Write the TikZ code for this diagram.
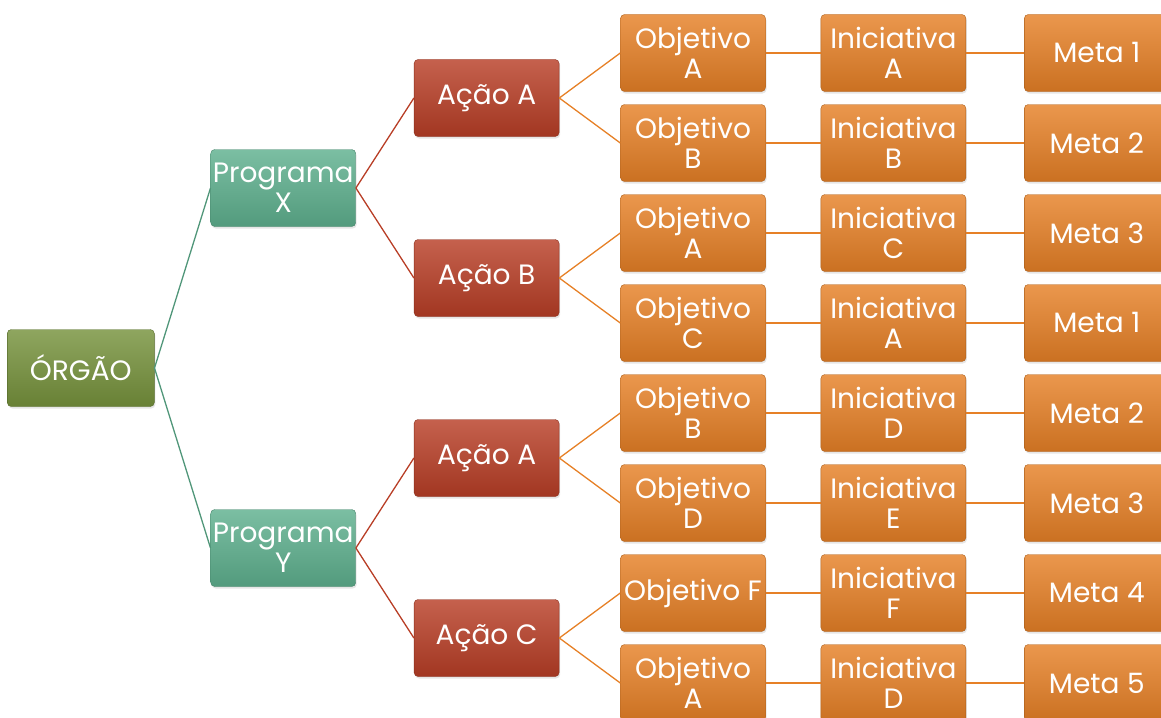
\documentclass[tikz,border=0pt]{standalone}
\usepackage{fontspec}
\setmainfont{Poppins}
\usepackage{tikz}
\usetikzlibrary{positioning, calc, shadows}
\definecolor{orgaogreen}{RGB}{118,146,60}
\definecolor{progteal}{RGB}{94,176,142}
\definecolor{acaored}{RGB}{184,62,38}
\definecolor{metaorange}{RGB}{230,128,38}

\begin{document}
\begin{tikzpicture}[x=1pt, y=-1pt, font=\fontsize{28}{30}\selectfont,
    box/.style={rectangle, rounded corners=4pt, minimum width=145pt, minimum height=77pt, inner sep=0pt, align=center, text=white,
      draw=#1!75!black, top color=#1!82!white, bottom color=#1!88!black,
      drop shadow={opacity=0.2, shadow xshift=1pt, shadow yshift=-2pt}},
    link/.style={line width=1.3pt, draw=#1}]
        \useasboundingbox (0,0) rectangle (1161,717);
        % objetivo column
        \node[box=metaorange] (o1) at (693,53) {Objetivo\\A};
        \node[box=metaorange, below=12.6pt of o1] (o2) {Objetivo\\B};
        \node[box=metaorange, below=12.6pt of o2] (o3) {Objetivo\\A};
        \node[box=metaorange, below=12.6pt of o3] (o4) {Objetivo\\C};
        \node[box=metaorange, below=12.6pt of o4] (o5) {Objetivo\\B};
        \node[box=metaorange, below=12.6pt of o5] (o6) {Objetivo\\D};
        \node[box=metaorange, below=12.6pt of o6] (o7) {Objetivo F};
        \node[box=metaorange, below=12.6pt of o7] (o8) {Objetivo\\A};
        % iniciativa column
        \node[box=metaorange, right=55pt of o1] (i1) {Iniciativa\\A};
        \node[box=metaorange, right=55pt of o2] (i2) {Iniciativa\\B};
        \node[box=metaorange, right=55pt of o3] (i3) {Iniciativa\\C};
        \node[box=metaorange, right=55pt of o4] (i4) {Iniciativa\\A};
        \node[box=metaorange, right=55pt of o5] (i5) {Iniciativa\\D};
        \node[box=metaorange, right=55pt of o6] (i6) {Iniciativa\\E};
        \node[box=metaorange, right=55pt of o7] (i7) {Iniciativa\\F};
        \node[box=metaorange, right=55pt of o8] (i8) {Iniciativa\\D};
        % meta column
        \node[box=metaorange, right=58pt of i1] (m1) {Meta 1};
        \node[box=metaorange, right=58pt of i2] (m2) {Meta 2};
        \node[box=metaorange, right=58pt of i3] (m3) {Meta 3};
        \node[box=metaorange, right=58pt of i4] (m4) {Meta 1};
        \node[box=metaorange, right=58pt of i5] (m5) {Meta 2};
        \node[box=metaorange, right=58pt of i6] (m6) {Meta 3};
        \node[box=metaorange, right=58pt of i7] (m7) {Meta 4};
        \node[box=metaorange, right=58pt of i8] (m8) {Meta 5};
        % acoes
        \coordinate (c1) at ($(o1.west)!0.5!(o2.west)$);
        \coordinate (c2) at ($(o3.west)!0.5!(o4.west)$);
        \coordinate (c3) at ($(o5.west)!0.5!(o6.west)$);
        \coordinate (c4) at ($(o7.west)!0.5!(o8.west)$);
        \node[box=acaored, left=61pt of c1] (a1) {Ação A};
        \node[box=acaored, left=61pt of c2] (a2) {Ação B};
        \node[box=acaored, left=61pt of c3] (a3) {Ação A};
        \node[box=acaored, left=61pt of c4] (a4) {Ação C};
        % programas
        \coordinate (c5) at ($(a1.west)!0.5!(a2.west)$);
        \coordinate (c6) at ($(a3.west)!0.5!(a4.west)$);
        \node[box=progteal, left=58pt of c5] (px) {Programa\\X};
        \node[box=progteal, left=58pt of c6] (py) {Programa\\Y};
        % orgao
        \coordinate (c7) at ($(px.west)!0.5!(py.west)$);
        \node[box=orgaogreen, minimum width=147pt, left=56pt of c7] (org) {ÓRGÃO};
        % ligacoes
        \draw[link=progteal!85!black] (org.east) -- (px.west);
        \draw[link=progteal!85!black] (org.east) -- (py.west);
        \draw[link=acaored] (px.east) -- (a1.west);
        \draw[link=acaored] (px.east) -- (a2.west);
        \draw[link=acaored] (py.east) -- (a3.west);
        \draw[link=acaored] (py.east) -- (a4.west);
        \draw[link=metaorange] (a1.east) -- (o1.west);
        \draw[link=metaorange] (a1.east) -- (o2.west);
        \draw[link=metaorange] (a2.east) -- (o3.west);
        \draw[link=metaorange] (a2.east) -- (o4.west);
        \draw[link=metaorange] (a3.east) -- (o5.west);
        \draw[link=metaorange] (a3.east) -- (o6.west);
        \draw[link=metaorange] (a4.east) -- (o7.west);
        \draw[link=metaorange] (a4.east) -- (o8.west);
        \draw[link=metaorange] (o1) -- (i1) (i1) -- (m1);
        \draw[link=metaorange] (o2) -- (i2) (i2) -- (m2);
        \draw[link=metaorange] (o3) -- (i3) (i3) -- (m3);
        \draw[link=metaorange] (o4) -- (i4) (i4) -- (m4);
        \draw[link=metaorange] (o5) -- (i5) (i5) -- (m5);
        \draw[link=metaorange] (o6) -- (i6) (i6) -- (m6);
        \draw[link=metaorange] (o7) -- (i7) (i7) -- (m7);
        \draw[link=metaorange] (o8) -- (i8) (i8) -- (m8);
      \end{tikzpicture}
\end{document}
